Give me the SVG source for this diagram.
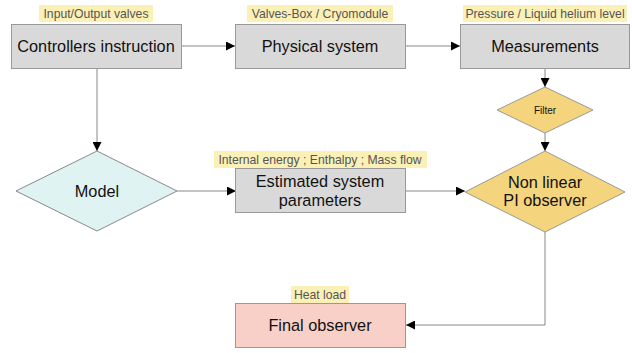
<svg xmlns="http://www.w3.org/2000/svg" width="632" height="353" viewBox="0 0 632 353">
<style>
.box{fill:#d9d9d9;stroke:#999;stroke-width:1}
.t{font-family:"Liberation Sans",Arial,sans-serif;font-size:16.3px;fill:#111;text-anchor:middle}
.lb{fill:#fbf0b6}
.lt{font-family:"Liberation Sans",Arial,sans-serif;font-size:12.2px;fill:#555;text-anchor:middle}
.c{fill:none;stroke:#888;stroke-width:1}
</style>
<defs>
<marker id="a" viewBox="0 0 10 10" refX="10" refY="5" markerWidth="9" markerHeight="9" markerUnits="userSpaceOnUse" orient="auto">
<path d="M0,0 L10,5 L0,10 z" fill="#000"/>
</marker>
</defs>
<rect width="632" height="353" fill="#fff"/>
<g id="connectors">
<path class="c" d="M182,46 H235" marker-end="url(#a)"/>
<path class="c" d="M406,46 H460" marker-end="url(#a)"/>
<path class="c" d="M97,68 V151" marker-end="url(#a)"/>
<path class="c" d="M545,68 V87" marker-end="url(#a)"/>
<path class="c" d="M545,133 V151" marker-end="url(#a)"/>
<path class="c" d="M177,191 H236" marker-end="url(#a)"/>
<path class="c" d="M405,191 H465" marker-end="url(#a)"/>
<path class="c" d="M545,232 V325 H406" marker-end="url(#a)"/>
</g>
<g id="controllers">
<rect class="lb" x="39" y="5" width="114" height="17"/>
<text class="lt" x="96" y="18">Input/Output valves</text>
<rect class="box" x="11.5" y="24.5" width="170" height="44"/>
<text class="t" x="96" y="52">Controllers instruction</text>
</g>
<g id="physical">
<rect class="lb" x="247" y="5" width="146" height="17"/>
<text class="lt" x="320" y="18">Valves-Box / Cryomodule</text>
<rect class="box" x="235.5" y="24.5" width="170" height="44"/>
<text class="t" x="320" y="52">Physical system</text>
</g>
<g id="measurements">
<rect class="lb" x="463" y="5" width="164" height="17"/>
<text class="lt" x="545" y="18">Pressure / Liquid helium level</text>
<rect class="box" x="460.5" y="24.5" width="169" height="44"/>
<text class="t" x="545" y="52">Measurements</text>
</g>
<g id="filter">
<path d="M545,87 L593,110 L545,133 L497,110 Z" fill="#f4d47c" stroke="#999"/>
<text class="t" x="545" y="114" style="font-size:10px">Filter</text>
</g>
<g id="model">
<path d="M97,151 L177,191 L97,231 L16,191 Z" fill="#e0f3f3" stroke="#888"/>
<text class="t" x="97" y="197">Model</text>
</g>
<g id="estimated">
<rect class="lb" x="214" y="151" width="213" height="17"/>
<text class="lt" x="320" y="164">Internal energy ; Enthalpy ; Mass flow</text>
<rect class="box" x="235.5" y="168.5" width="170" height="44"/>
<text class="t" x="320" y="187">Estimated system</text>
<text class="t" x="320" y="206">parameters</text>
</g>
<g id="nonlinear">
<path d="M545,151 L625,192 L545,232 L465,192 Z" fill="#f4d47c" stroke="#999"/>
<text class="t" x="545" y="188">Non linear</text>
<text class="t" x="545" y="206">PI observer</text>
</g>
<g id="final">
<rect class="lb" x="291" y="286" width="58" height="17"/>
<text class="lt" x="320" y="299">Heat load</text>
<rect x="235.5" y="303.5" width="170" height="44" fill="#f8d0c8" stroke="#999"/>
<text class="t" x="320" y="331">Final observer</text>
</g>
</svg>
